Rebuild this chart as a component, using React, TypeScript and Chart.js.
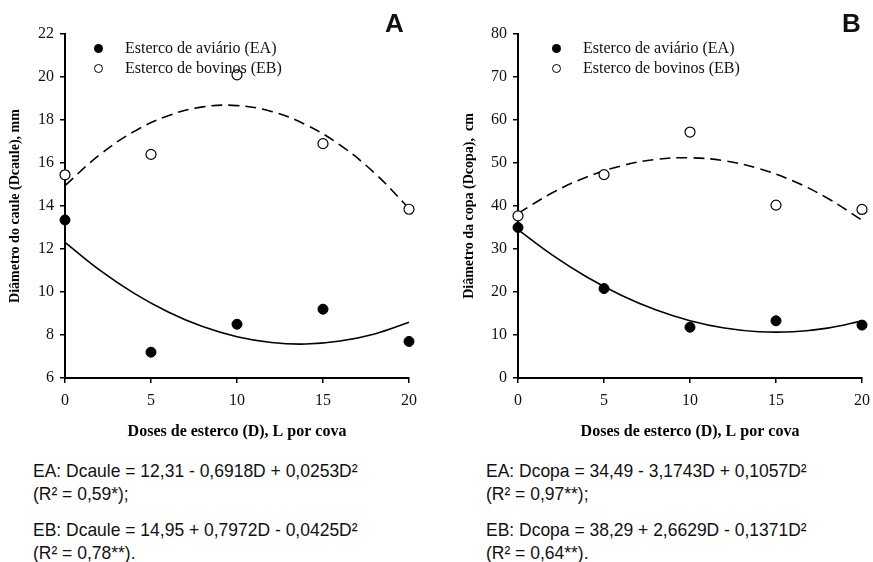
import React, { useEffect, useRef } from "react";
import { Chart, registerables } from "chart.js";

Chart.register(...registerables);

// ---- Data ----
const doses = [0, 5, 10, 15, 20];
const curveDoses = [0, 2, 4, 6, 8, 10, 12, 14, 16, 18, 20];

// Panel A: stem diameter (mm)
const caulePointsEA = [13.35, 7.2, 8.5, 9.2, 7.7];
const caulePointsEB = [15.45, 16.4, 20.1, 16.9, 13.85];
const cauleCurveEA = [12.31, 11.03, 9.95, 9.07, 8.39, 7.92, 7.65, 7.58, 7.72, 8.05, 8.59];
const cauleCurveEB = [14.95, 16.37, 17.46, 18.2, 18.61, 18.67, 18.4, 17.78, 16.83, 15.53, 13.89];

// Panel B: canopy diameter (cm)
const copaPointsEA = [35.0, 20.8, 11.8, 13.3, 12.3];
const copaPointsEB = [37.7, 47.3, 57.2, 40.2, 39.2];
const copaCurveEA = [34.49, 28.56, 23.48, 19.25, 15.86, 13.32, 11.62, 10.77, 10.76, 11.6, 13.28];
const copaCurveEB = [38.29, 43.07, 46.75, 49.33, 50.82, 51.21, 50.5, 48.7, 45.8, 41.8, 36.7];

const legendLabels = ["Esterco de aviário (EA)", "Esterco de bovinos (EB)"];
const xTitle = "Doses de esterco (D), L por cova";
const yTitleA = "Diâmetro do caule (Dcaule), mm";
const yTitleB = "Diâmetro da copa (Dcopa),  cm";

const eqA = [
  "EA: Dcaule = 12,31 - 0,6918D + 0,0253D²",
  "(R² = 0,59*);",
  "EB: Dcaule = 14,95 + 0,7972D - 0,0425D²",
  "(R² = 0,78**).",
];
const eqB = [
  "EA: Dcopa = 34,49 - 3,1743D + 0,1057D²",
  "(R² = 0,97**);",
  "EB: Dcopa = 38,29 + 2,6629D - 0,1371D²",
  "(R² = 0,64**).",
];

const SERIF = "'Liberation Serif', 'Times New Roman', serif";
const SANS = "'Liberation Sans', Arial, sans-serif";

const zip = (xs: number[], ys: number[]) => xs.map((x, i) => ({ x, y: ys[i] }));

type PanelProps = {
  left: number;
  width: number;
  height: number;
  yMin: number;
  yMax: number;
  yStep: number;
  yTitle: string;
  yWidth: number;
  yTitlePad: number;
  padRight: number;
  pEA: number[];
  pEB: number[];
  cEA: number[];
  cEB: number[];
};

function Panel(props: PanelProps) {
  const ref = useRef<HTMLCanvasElement | null>(null);
  useEffect(() => {
    if (!ref.current) return;
    const tickFont = { family: SERIF, size: 16 };
    const chart = new Chart(ref.current, {
      type: "scatter",
      data: {
        datasets: [
          {
            label: legendLabels[0],
            data: zip(doses, props.pEA),
            showLine: false,
            pointRadius: 5,
            pointBackgroundColor: "#000",
            pointBorderColor: "#000",
            pointBorderWidth: 1,
            clip: false,
          },
          {
            label: legendLabels[1],
            data: zip(doses, props.pEB),
            showLine: false,
            pointRadius: 5,
            pointBackgroundColor: "#fff",
            pointBorderColor: "#000",
            pointBorderWidth: 1.2,
            clip: false,
          },
          {
            label: "EA fit",
            data: zip(curveDoses, props.cEA),
            showLine: true,
            pointRadius: 0,
            borderColor: "#000",
            borderWidth: 1.6,
            tension: 0.4,
            clip: false,
          },
          {
            label: "EB fit",
            data: zip(curveDoses, props.cEB),
            showLine: true,
            pointRadius: 0,
            borderColor: "#000",
            borderWidth: 1.6,
            borderDash: [11, 6],
            tension: 0.4,
            clip: false,
          },
        ],
      },
      options: {
        animation: false,
        responsive: false,
        maintainAspectRatio: false,
        layout: { padding: { top: 34, right: props.padRight, bottom: 0, left: 0 } },
        plugins: { legend: { display: false }, tooltip: { enabled: false } },
        scales: {
          x: {
            type: "linear",
            min: 0,
            max: 20,
            ticks: { stepSize: 5, font: tickFont, color: "#111", padding: 8 },
            grid: { drawOnChartArea: false, drawTicks: true, tickLength: 5, color: "#000", lineWidth: 1.5 },
            border: { display: true, color: "#000", width: 2 },
            title: {
              display: true,
              text: xTitle,
              font: { family: SERIF, size: 16, weight: "bold" },
              color: "#000",
              padding: { top: 0, bottom: 4 },
            },
            afterFit: (s: any) => {
              s.height = 67;
              s.paddingRight = 0;
            },
          },
          y: {
            type: "linear",
            min: props.yMin,
            max: props.yMax,
            ticks: { stepSize: props.yStep, font: tickFont, color: "#111", padding: 6 },
            grid: { drawOnChartArea: false, drawTicks: true, tickLength: 5, color: "#000", lineWidth: 1.5 },
            border: { display: true, color: "#000", width: 2 },
            title: {
              display: true,
              text: props.yTitle,
              font: { family: SERIF, size: 14, weight: "bold" },
              color: "#000",
              padding: { top: props.yTitlePad, bottom: 0 },
            },
            afterFit: (s: any) => {
              s.width = props.yWidth;
            },
          },
        },
      },
    });
    return () => chart.destroy();
  }, []);
  return (
    <canvas
      ref={ref}
      width={props.width}
      height={props.height}
      style={{ position: "absolute", left: props.left, top: 0, width: props.width, height: props.height }}
    />
  );
}

function Legend({ left }: { left: number }) {
  const row = (filled: boolean, text: string, top: number) => (
    <div style={{ position: "absolute", left, top, height: 20, display: "flex", alignItems: "center" }}>
      <span
        style={{
          display: "inline-block",
          width: filled ? 9 : 7,
          height: filled ? 9 : 7,
          borderRadius: "50%",
          background: filled ? "#000" : "#fff",
          border: filled ? "none" : "1.2px solid #000",
        }}
      />
      <span style={{ fontFamily: SERIF, fontSize: 16, marginLeft: 22, color: "#111", whiteSpace: "nowrap" }}>{text}</span>
    </div>
  );
  return (
    <>
      {row(true, legendLabels[0], 38)}
      {row(false, legendLabels[1], 58)}
    </>
  );
}

function Equations({ left, lines }: { left: number; lines: string[] }) {
  const tops = [461, 484, 520, 543];
  return (
    <>
      {lines.map((t, i) => (
        <div
          key={i}
          style={{
            position: "absolute",
            left,
            top: tops[i],
            fontFamily: SANS,
            fontSize: 19,
            lineHeight: "19px",
            color: "#111",
            whiteSpace: "nowrap",
            transform: "scaleX(0.92)",
            transformOrigin: "left top",
          }}
        >
          {t}
        </div>
      ))}
    </>
  );
}

export default function App() {
  return (
    <div style={{ position: "absolute", left: 0, top: 0, width: 873, height: 562, background: "#fff", overflow: "hidden" }}>
      <Panel
        left={0}
        width={436}
        height={445}
        yMin={6}
        yMax={22}
        yStep={2}
        yTitle={yTitleA}
        yWidth={65}
        yTitlePad={7}
        padRight={27}
        pEA={caulePointsEA}
        pEB={caulePointsEB}
        cEA={cauleCurveEA}
        cEB={cauleCurveEB}
      />
      <Panel
        left={440}
        width={433}
        height={445}
        yMin={0}
        yMax={80}
        yStep={10}
        yTitle={yTitleB}
        yWidth={78}
        yTitlePad={21}
        padRight={11}
        pEA={copaPointsEA}
        pEB={copaPointsEB}
        cEA={copaCurveEA}
        cEB={copaCurveEB}
      />
      <Legend left={94} />
      <Legend left={552} />
      <div style={{ position: "absolute", left: 385, top: 10, fontFamily: SANS, fontWeight: "bold", fontSize: 26, lineHeight: "26px", color: "#111" }}>A</div>
      <div style={{ position: "absolute", left: 842, top: 10, fontFamily: SANS, fontWeight: "bold", fontSize: 26, lineHeight: "26px", color: "#111" }}>B</div>
      <Equations left={33} lines={eqA} />
      <Equations left={486} lines={eqB} />
    </div>
  );
}
